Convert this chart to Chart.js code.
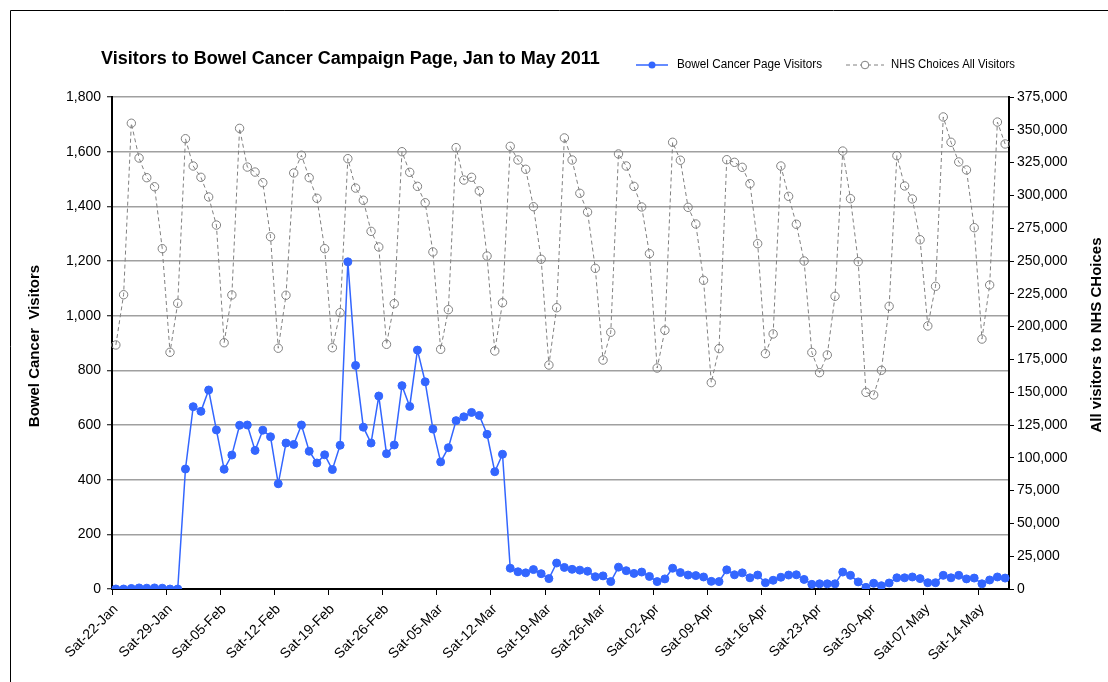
<!DOCTYPE html>
<html>
<head>
<meta charset="utf-8">
<title>Visitors to Bowel Cancer Campaign Page, Jan to May 2011</title>
<script src="https://cdn.jsdelivr.net/npm/chart.js@4.4.0/dist/chart.umd.min.js"></script>
<style>
  html, body { margin: 0; padding: 0; background: #ffffff; }
  #wrap { position: relative; width: 1108px; height: 682px; }
</style>
</head>
<body>
<div id="wrap"><canvas id="chart" width="1108" height="682"></canvas></div>
<script>
// Daily series, Saturday 22 January to Tuesday 17 May 2011
const firstDay = new Date(2011, 0, 22);
const dayCount = 116;

// Weekly axis labels (every Saturday)
const weekLabels = [
  'Sat-22-Jan', 'Sat-29-Jan', 'Sat-05-Feb', 'Sat-12-Feb', 'Sat-19-Feb', 'Sat-26-Feb',
  'Sat-05-Mar', 'Sat-12-Mar', 'Sat-19-Mar', 'Sat-26-Mar', 'Sat-02-Apr', 'Sat-09-Apr',
  'Sat-16-Apr', 'Sat-23-Apr', 'Sat-30-Apr', 'Sat-07-May', 'Sat-14-May'
];

// Bowel cancer campaign page visitors per day (left axis)
const bowelVisitors = [
  0, 0, 2, 4, 3, 4, 3, 0, 0, 439,
  667, 650, 728, 582, 438, 490, 599, 600, 507, 581,
  557, 385, 534, 529, 600, 504, 461, 491, 437, 526,
  1197, 818, 592, 534, 706, 495, 527, 744, 668, 874,
  758, 585, 465, 517, 616, 630, 646, 635, 566, 429,
  493, 76, 63, 59, 71, 56, 38, 95, 79, 72,
  69, 65, 45, 48, 27, 80, 67, 57, 62, 46,
  27, 37, 76, 60, 51, 49, 44, 28, 27, 70,
  52, 59, 41, 51, 23, 32, 43, 51, 52, 35,
  17, 19, 19, 19, 62, 50, 26, 6, 21, 12,
  22, 41, 41, 44, 38, 23, 23, 50, 41, 50,
  37, 40, 19, 33, 44, 40
];

// NHS Choices visitors to the whole site per day (right axis)
const nhsVisitors = [
  186000, 224300, 355000, 328500, 313500, 306600, 259400, 180400, 217800, 343200,
  322400, 313800, 298800, 277400, 187700, 224100, 351100, 321600, 317800, 309700,
  268500, 183500, 223900, 317100, 330600, 313500, 297800, 259400, 183900, 210600,
  328000, 305600, 296300, 272600, 260700, 186500, 217500, 333300, 317600, 306900,
  294400, 256900, 182700, 212900, 336400, 311700, 313800, 303400, 253800, 181400,
  218200, 337400, 327000, 319900, 291400, 251300, 170700, 214400, 343800, 327000,
  301600, 287300, 244400, 174500, 195700, 331600, 322400, 306900, 291200, 255600,
  168400, 197200, 340500, 326800, 290900, 278200, 235300, 157300, 183200, 327200,
  325200, 321400, 308900, 263200, 179400, 194400, 322400, 299300, 278000, 250000,
  180300, 164900, 178400, 223100, 333800, 297500, 249500, 149900, 147900, 166700,
  215500, 330300, 307200, 297300, 266200, 200500, 230700, 359800, 340500, 325500,
  319400, 275400, 190500, 231700, 355900, 339200
];

const categories = [];
for (let i = 0; i < dayCount; i++) {
  const d = new Date(firstDay.getFullYear(), firstDay.getMonth(), firstDay.getDate() + i);
  categories.push(d.toDateString());
}

const FONT = "'Liberation Sans', Arial, Helvetica, sans-serif";
const BLUE = '#3366ff';
const GREY = '#808080';
const withCommas = v => Number(v).toLocaleString('en-GB');

// Title, legend, rotated axis titles and outer frame
const decorations = {
  id: 'decorations',
  afterDraw(chart) {
    const ctx = chart.ctx;
    ctx.save();

    // outer frame
    ctx.strokeStyle = '#000';
    ctx.lineWidth = 1;
    ctx.beginPath();
    ctx.moveTo(10.5, 682);
    ctx.lineTo(10.5, 10.5);
    ctx.lineTo(1108, 10.5);
    ctx.stroke();

    // title
    ctx.fillStyle = '#000';
    ctx.textBaseline = 'middle';
    ctx.textAlign = 'left';
    ctx.font = 'bold 18px ' + FONT;
    ctx.fillText('Visitors to Bowel Cancer Campaign Page, Jan to May 2011', 101, 59, 505);

    // legend: bowel cancer page visitors
    const ly = 65;
    ctx.strokeStyle = BLUE;
    ctx.lineWidth = 1.5;
    ctx.setLineDash([]);
    ctx.beginPath();
    ctx.moveTo(636, ly);
    ctx.lineTo(668, ly);
    ctx.stroke();
    ctx.fillStyle = BLUE;
    ctx.beginPath();
    ctx.arc(652, ly, 3.5, 0, Math.PI * 2);
    ctx.fill();
    ctx.fillStyle = '#000';
    ctx.font = '12px ' + FONT;
    ctx.fillText('Bowel Cancer Page Visitors', 677, ly, 145);

    // legend: NHS Choices all visitors
    ctx.strokeStyle = GREY;
    ctx.lineWidth = 1;
    ctx.setLineDash([4, 3]);
    ctx.beginPath();
    ctx.moveTo(846, ly);
    ctx.lineTo(884, ly);
    ctx.stroke();
    ctx.setLineDash([]);
    ctx.fillStyle = '#fff';
    ctx.beginPath();
    ctx.arc(865, ly, 3.8, 0, Math.PI * 2);
    ctx.fill();
    ctx.stroke();
    ctx.fillStyle = '#000';
    ctx.fillText('NHS Choices All Visitors', 891, ly, 124);

    // axis titles, both reading bottom to top
    ctx.font = 'bold 15px ' + FONT;
    ctx.textAlign = 'center';
    ctx.save();
    ctx.translate(35, 346);
    ctx.rotate(-Math.PI / 2);
    ctx.fillText('Bowel Cancer  Visitors', 0, 0);
    ctx.restore();
    ctx.save();
    ctx.translate(1097, 335);
    ctx.rotate(-Math.PI / 2);
    ctx.fillText('All visitors to NHS CHoices', 0, 0);
    ctx.restore();

    ctx.restore();
  }
};

new Chart(document.getElementById('chart'), {
  type: 'line',
  data: {
    labels: categories,
    datasets: [
      {
        label: 'Bowel Cancer Page Visitors',
        data: bowelVisitors,
        yAxisID: 'y',
        borderColor: BLUE,
        borderWidth: 1.5,
        pointRadius: 4,
        pointBorderWidth: 1,
        pointBackgroundColor: BLUE,
        pointBorderColor: BLUE,
        tension: 0,
        fill: false
      },
      {
        label: 'NHS Choices All Visitors',
        data: nhsVisitors,
        yAxisID: 'y1',
        borderColor: GREY,
        borderWidth: 1,
        borderDash: [4, 3],
        pointRadius: 4.2,
        pointBorderWidth: 1,
        pointBackgroundColor: 'rgba(255,255,255,0)',
        pointBorderColor: GREY,
        tension: 0,
        fill: false
      }
    ]
  },
  options: {
    responsive: false,
    animation: false,
    devicePixelRatio: 1,
    layout: { padding: { top: 97, left: 0, right: 0, bottom: 0 } },
    plugins: {
      legend: { display: false },
      title: { display: false },
      tooltip: { enabled: false }
    },
    scales: {
      x: {
        type: 'category',
        offset: true,
        grid: {
          offset: true,
          drawOnChartArea: false,
          drawTicks: true,
          tickLength: 6,
          tickWidth: 1,
          tickColor: c => (c.index % 7 === 0 ? '#000' : 'rgba(0,0,0,0)')
        },
        border: { display: true, color: '#000', width: 2 },
        ticks: {
          autoSkip: false,
          maxRotation: 45,
          minRotation: 45,
          padding: 6,
          color: '#000',
          font: { family: FONT, size: 14 },
          callback: (v, i) => (i % 7 === 0 ? weekLabels[i / 7] : '')
        },
        afterFit: s => { s.height = 93; }
      },
      y: {
        position: 'left',
        min: 0,
        max: 1800,
        grid: {
          color: '#a0a0a0',
          lineWidth: 1.5,
          tickColor: '#000',
          tickLength: 5,
          tickWidth: 1
        },
        border: { display: true, color: '#000', width: 2 },
        ticks: {
          stepSize: 200,
          padding: 6,
          color: '#000',
          font: { family: FONT, size: 14 },
          callback: v => withCommas(v)
        },
        afterFit: s => { s.width = 112; }
      },
      y1: {
        position: 'right',
        min: 0,
        max: 375000,
        grid: {
          drawOnChartArea: false,
          tickColor: '#000',
          tickLength: 5,
          tickWidth: 1
        },
        border: { display: true, color: '#000', width: 2 },
        ticks: {
          stepSize: 25000,
          padding: 3,
          color: '#000',
          font: { family: FONT, size: 14 },
          callback: v => withCommas(v)
        },
        afterFit: s => { s.width = 99; }
      }
    }
  },
  plugins: [decorations]
});
</script>
</body>
</html>
